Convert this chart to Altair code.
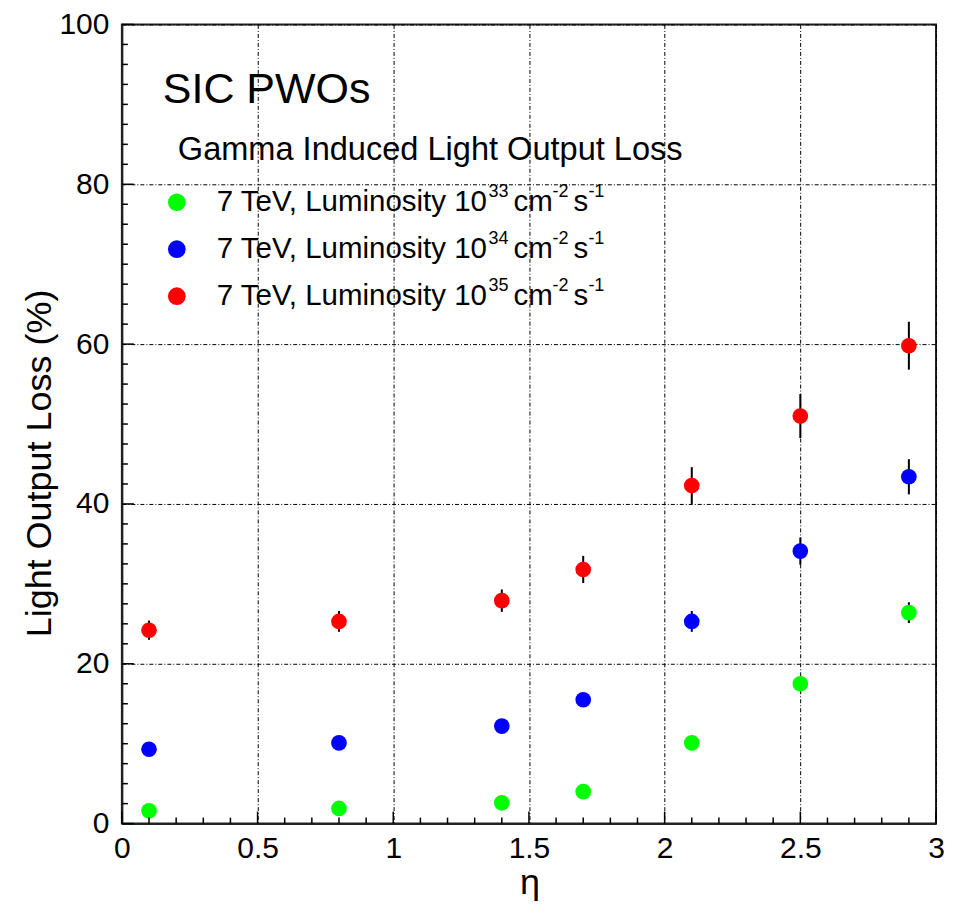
import altair as alt
import pandas as pd

# ---------------- data ----------------
eta = [0.1, 0.8, 1.4, 1.7, 2.1, 2.5, 2.9]

loss_1e33 = [1.6, 1.9, 2.6, 4.0, 10.1, 17.5, 26.4]
err_1e33 = [0.1, 0.1, 0.15, 0.2, 0.5, 0.9, 1.3]

loss_1e34 = [9.3, 10.1, 12.2, 15.5, 25.3, 34.1, 43.4]
err_1e34 = [0.5, 0.5, 0.6, 0.8, 1.3, 1.7, 2.2]

loss_1e35 = [24.2, 25.3, 27.9, 31.8, 42.3, 51.0, 59.8]
err_1e35 = [1.2, 1.3, 1.4, 1.7, 2.3, 2.75, 3.0]

series = ["1e33", "1e34", "1e35"]
exponents = ["33", "34", "35"]
colors = ["#00ff00", "#0000ff", "#ff0000"]

x_major = [0, 0.5, 1, 1.5, 2, 2.5, 3]
y_major = [0, 20, 40, 60, 80, 100]
x_minor = [round(i * 0.1, 1) for i in range(31) if i % 5 != 0]
y_minor = [i * 2.5 for i in range(41) if i % 8 != 0]

title_text = "SIC PWOs"
subtitle_text = "Gamma Induced Light Output Loss"
legend_main = "7 TeV, Luminosity 10"

# ---------------- build table ----------------
rows = []
for s, vals, errs in zip(series, [loss_1e33, loss_1e34, loss_1e35], [err_1e33, err_1e34, err_1e35]):
    for x, v, e in zip(eta, vals, errs):
        rows.append({"series": s, "eta": x, "loss": v, "lo": v - e, "hi": v + e})
df = pd.DataFrame(rows)

FONT = "Liberation Sans"
W, H = 815, 800
xs = alt.Scale(domain=[0, 3], nice=False, zero=False)
ys = alt.Scale(domain=[0, 100], nice=False, zero=False)
DASH = [4, 2, 1, 2]
AX = "#222222"

x_axis = alt.Axis(
    values=x_major, format="~g", grid=True, gridDash=DASH, gridColor="black",
    gridOpacity=1, gridWidth=1, ticks=False, tickSize=0, domainColor=AX, domainWidth=2,
    labelFont=FONT, labelFontSize=30, labelPadding=10, labelColor="black",
    labelFlush=False, labelOverlap=False,
    title="η", titleFont=FONT, titleFontSize=36, titleFontWeight="normal", titleColor="black",
    titleX=408, titleY=70, titleAlign="center", titleBaseline="alphabetic",
)
y_axis = alt.Axis(
    values=y_major, format="d", grid=True, gridDash=DASH, gridColor="black",
    gridOpacity=1, gridWidth=1, ticks=False, tickSize=0, domainColor=AX, domainWidth=2,
    labelFont=FONT, labelFontSize=30, labelPadding=13, labelColor="black",
    labelFlush=False, labelOverlap=False,
    title="Light Output Loss (%)", titleFont=FONT, titleFontSize=36, titleFontWeight="normal",
    titleColor="black", titleX=-71, titleY=439, titleAngle=-90, titleAlign="center",
    titleBaseline="alphabetic",
)

color_scale = alt.Scale(domain=series, range=colors)

errbars = alt.Chart(df).mark_rule(color="black", strokeWidth=2).encode(
    x=alt.X("eta:Q", scale=xs, axis=x_axis),
    y=alt.Y("lo:Q", scale=ys, axis=y_axis),
    y2="hi:Q",
)
points = alt.Chart(df).mark_circle(size=246, opacity=1).encode(
    x=alt.X("eta:Q", scale=xs, axis=x_axis),
    y=alt.Y("loss:Q", scale=ys, axis=y_axis),
    color=alt.Color("series:N", scale=color_scale, legend=None),
)

def xticks(vals, length):
    return alt.Chart(pd.DataFrame({"eta": vals})).mark_rule(
        color="black", strokeWidth=1.5
    ).encode(
        x=alt.X("eta:Q", scale=xs, axis=x_axis), y=alt.value(H), y2=alt.value(H - length)
    )

def yticks(vals, length):
    return alt.Chart(pd.DataFrame({"loss": vals})).mark_rule(
        color="black", strokeWidth=1.5
    ).encode(
        y=alt.Y("loss:Q", scale=ys, axis=y_axis), x=alt.value(0), x2=alt.value(length)
    )

def label(txt, x, y, size):
    return alt.Chart(pd.DataFrame({"t": [txt]})).mark_text(
        align="left", baseline="alphabetic", font=FONT, fontSize=size, color="black"
    ).encode(x=alt.value(x), y=alt.value(y), text="t:N")

layers = [errbars, points,
          xticks(x_minor, 6), xticks(x_major, 12),
          yticks(y_minor, 6), yticks(y_major, 12),
          label(title_text, 41, 79, 43),
          label(subtitle_text, 56, 136, 32.6)]

for i, (exp, col) in enumerate(zip(exponents, colors)):
    b = 187 + 47 * i
    layers.append(
        alt.Chart(pd.DataFrame({"s": [series[i]]})).mark_circle(size=314, opacity=1, color=col)
        .encode(x=alt.value(55), y=alt.value(b - 9))
    )
    layers.append(label(legend_main, 95, b, 29.5))
    layers.append(label(exp, 367, b - 14, 18))
    layers.append(label("cm", 392, b, 29.5))
    layers.append(label("-2", 431, b - 14, 18))
    layers.append(label("s", 452, b, 29.5))
    layers.append(label("-1", 467, b - 14, 18))

chart = alt.layer(*layers).properties(
    width=W, height=H,
    background="white",
    autosize=alt.AutoSizeParams(type="none"),
    padding={"left": 114, "top": 16, "right": 12, "bottom": 80},
).configure_view(stroke=AX, strokeWidth=2)

chart.save("out.html", embed_options={"renderer": "svg", "actions": False})
